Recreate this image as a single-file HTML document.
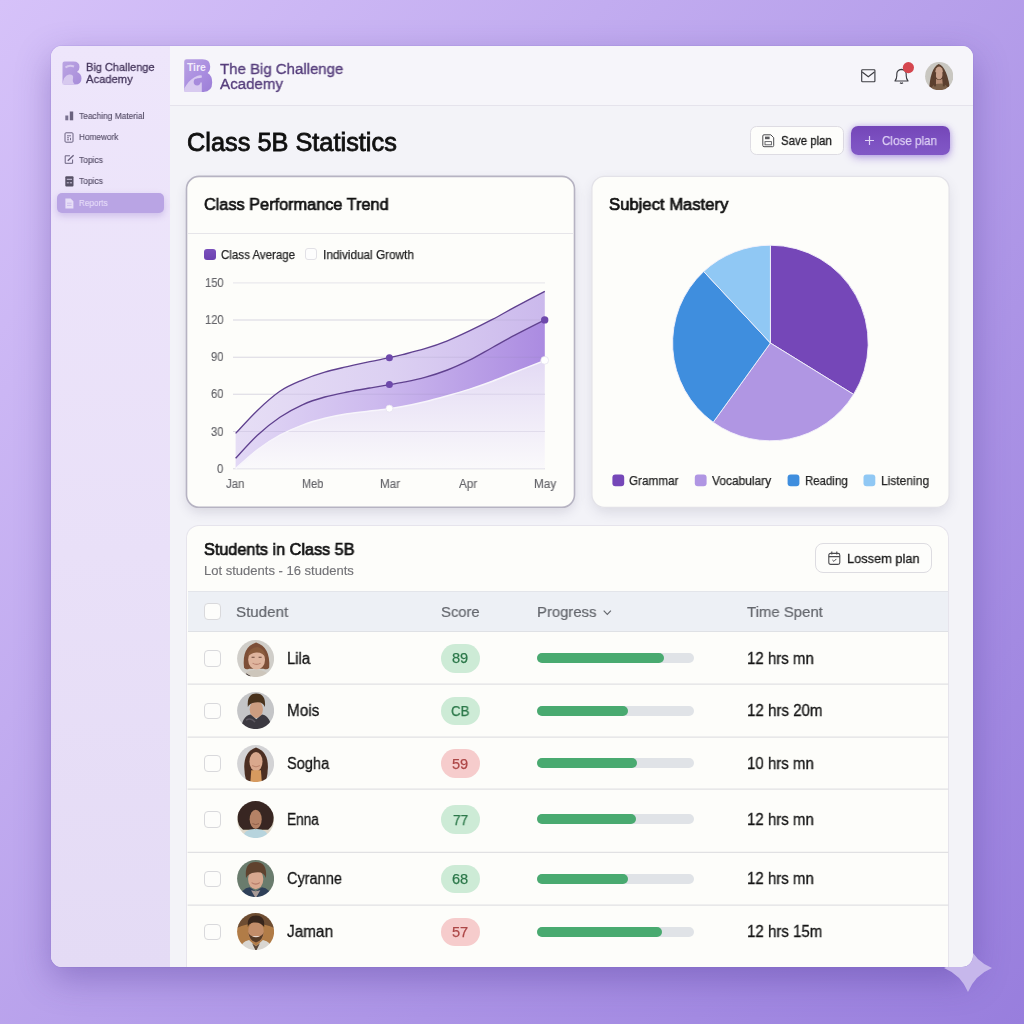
<!DOCTYPE html>
<html>
<head>
<meta charset="utf-8">
<style>
*{box-sizing:border-box;margin:0;padding:0}
html,body{width:1024px;height:1024px;overflow:hidden}
body{font-family:"Liberation Sans",sans-serif;position:relative;background:#b9a2ea}
.abs{position:absolute;display:block}
.t{will-change:transform;position:absolute;display:block;white-space:nowrap;line-height:1;transform-origin:0 0}
.card{position:absolute;background:#fdfdfa}
.chk{position:absolute;width:16.5px;height:16.5px;border:1.5px solid #d9d9dc;border-radius:4px;background:#fdfdfb}
.sep{position:absolute;left:187px;width:762px;height:1.2px;background:#e2e2e4}
.pill{position:absolute;left:440.8px;width:39.2px;height:28.8px;border-radius:14.4px}
.pg{background:#cdebd6}
.pr{background:#f6cccc}
.track{position:absolute;left:536.6px;width:157.2px;height:10px;border-radius:5px;background:#e0e3e7}
.fill{position:absolute;left:536.6px;height:10px;border-radius:5px;background:#49aa70}
</style>
</head>
<body>

<div class="abs" style="left:0;top:0;width:1024px;height:1024px;background:linear-gradient(130deg,#d6c2f9 0%,#987edd 100%)"></div>
<div class="abs" style="left:51px;top:45.5px;width:922px;height:921.5px;border-radius:11px;background:#f3f3f8;box-shadow:0 12px 34px rgba(70,45,140,.36),0 0 0 1px rgba(150,125,215,.15);overflow:hidden">
 <div class="abs" style="left:0;top:0;width:118.5px;height:922px;background:linear-gradient(180deg,#eee6fb 0%,#e9e0f8 55%,#e4dbf5 100%)"></div>
 <div class="abs" style="left:118.5px;top:0;width:804px;height:60px;background:#f6f5fa;border-bottom:1.2px solid #e5e3ec"></div>
</div>
<svg class="abs" style="left:61.5px;top:61px" width="20" height="24" viewBox="0 0 20 24">
<defs><linearGradient id="lg0" x1="0" y1="0" x2="1" y2="1"><stop offset="0" stop-color="#bba5e3"/><stop offset="1" stop-color="#a78cd9"/></linearGradient></defs>
<path d="M0.5 2.5Q0.5 0.5 2.5 0.5H11.5Q17.5 0.5 17.5 6Q17.5 9.5 15 11Q19.5 12.5 19.5 17.5Q19.5 23.5 13 23.5H2.5Q0.5 23.5 0.5 21.5Z" fill="url(#lg0)"/>
<path d="M0.5 23.5Q1.5 14.5 7 13.5Q12 13 11 17.5Q10 21 13 23.5Z" fill="#d7c9ef"/>
<path d="M3.5 6.5Q7 3.5 12 5.5" stroke="#d7c9ef" stroke-width="2" fill="none"/>
</svg>
<div class="t" style="left:86.30px;top:61.57px;font-size:11.5px;color:#45365c;transform:scaleX(0.9566);-webkit-text-stroke:0.30px #45365c;">Big Challenge</div>
<div class="t" style="left:86.30px;top:73.67px;font-size:11.5px;color:#45365c;transform:scaleX(0.9743);-webkit-text-stroke:0.30px #45365c;">Academy</div>
<div class="abs" style="left:57px;top:193.3px;width:107px;height:19.8px;border-radius:5px;background:#b9a4e4;box-shadow:0 3px 7px rgba(125,95,195,.28)"></div>
<div class="t" style="left:79.40px;top:111.04px;font-size:9.4px;color:#564e68;transform:scaleX(0.8891);-webkit-text-stroke:0.15px #564e68;">Teaching Material</div>
<div class="t" style="left:79.40px;top:132.34px;font-size:9.4px;color:#564e68;transform:scaleX(0.8789);-webkit-text-stroke:0.15px #564e68;">Homework</div>
<div class="t" style="left:79.40px;top:154.54px;font-size:9.4px;color:#564e68;transform:scaleX(0.8972);-webkit-text-stroke:0.15px #564e68;">Topics</div>
<div class="t" style="left:79.40px;top:176.34px;font-size:9.4px;color:#564e68;transform:scaleX(0.8972);-webkit-text-stroke:0.15px #564e68;">Topics</div>
<div class="t" style="left:79.40px;top:198.34px;font-size:9.4px;color:#e4daf7;transform:scaleX(0.8691);-webkit-text-stroke:0.15px #e4daf7;">Reports</div>
<svg class="abs" style="left:64.5px;top:110.5px" width="9" height="10" viewBox="0 0 9 10"><rect x="0.3" y="4.5" width="3" height="4.8" fill="#7a7290"/><rect x="4.8" y="0.5" width="3.4" height="8.8" fill="#6a627e"/></svg>
<svg class="abs" style="left:64px;top:131.5px" width="10" height="11" viewBox="0 0 10 11"><rect x="1" y="0.8" width="8" height="9.4" rx="1" fill="none" stroke="#6b6380" stroke-width="1"/><path d="M3 3.8h4M3 5.8h2M6.5 5.8v2.4M3 7.8h2" stroke="#6b6380" stroke-width="0.9"/></svg>
<svg class="abs" style="left:64px;top:153.5px" width="11" height="11" viewBox="0 0 11 11"><path d="M6 1.8H1.2V9.3H8.6V5.5" fill="none" stroke="#6b6380" stroke-width="1"/><path d="M3.8 6.8L9.6 1.2" stroke="#6b6380" stroke-width="1.4"/></svg>
<svg class="abs" style="left:64.5px;top:175.5px" width="9" height="11" viewBox="0 0 9 11"><rect x="0.3" y="0.3" width="8.2" height="10.2" rx="1" fill="#575166"/><path d="M1.8 3.3h5.2M1.8 6.8h2M4.8 6.8h2.2" stroke="#cfc8e0" stroke-width="1"/></svg>
<svg class="abs" style="left:65px;top:197.5px" width="9" height="11" viewBox="0 0 9 11"><path d="M0.4 0.4H5.6L8.4 3.2V10.6H0.4Z" fill="#e7def7"/><path d="M2 5.2h4.6M2 7.4h4.6" stroke="#c5b4ea" stroke-width="0.8"/></svg>
<svg class="abs" style="left:184px;top:58.8px" width="29" height="34" viewBox="0 0 29 34">
<defs><linearGradient id="lg1" x1="0" y1="0" x2="1" y2="1"><stop offset="0" stop-color="#b9a2e3"/><stop offset="0.55" stop-color="#a98de0"/><stop offset="1" stop-color="#9c7ed6"/></linearGradient></defs>
<path d="M0.2 2.6Q0.2 0.3 2.6 0.3H18.5Q26.2 0.3 26.2 7.6Q26.2 12.2 23.6 13.9Q28.2 16.3 28.2 23.6Q28.2 32.9 19.5 32.9H2.6Q0.2 32.9 0.2 30.6Z" fill="url(#lg1)"/>
<path d="M0.3 32.9V29.5Q4.5 21.5 10.5 18.2Q15 15.6 17.8 16.6V32.9Z" fill="#d8caf0"/>
<circle cx="13.1" cy="23" r="3.4" fill="#a78bdc"/>
<path d="M13.1 19.6L18.5 18.4V23.4L13.1 23.4Z" fill="#a78bdc"/>
<text x="2.9" y="12.3" font-family="Liberation Sans" font-weight="bold" font-size="11.2" fill="#f1ebfb" textLength="19" lengthAdjust="spacingAndGlyphs">Tire</text>
</svg>
<div class="t" style="left:220.00px;top:60.93px;font-size:15.2px;color:#563e7c;transform:scaleX(0.9867);-webkit-text-stroke:0.35px #563e7c;">The Big Challenge</div>
<div class="t" style="left:220.00px;top:76.23px;font-size:15.2px;color:#563e7c;transform:scaleX(0.9944);-webkit-text-stroke:0.35px #563e7c;">Academy</div>
<svg class="abs" style="left:860.5px;top:69px" width="16" height="14" viewBox="0 0 16 14"><rect x="0.7" y="0.7" width="13.2" height="12" rx="0.8" fill="none" stroke="#3c3c42" stroke-width="1.15"/><path d="M1.2 3L7.3 7.8L13.4 3" fill="none" stroke="#3c3c42" stroke-width="1.15"/></svg>
<svg class="abs" style="left:892px;top:61px" width="24" height="24" viewBox="0 0 24 24"><path d="M3 20H16Q14.2 18 14.2 14.5V13Q14.2 9 9.5 8.4Q4.8 9 4.8 13V14.5Q4.8 18 3 20Z" fill="none" stroke="#3c3c42" stroke-width="1.15" stroke-linejoin="round"/><path d="M8 21.8Q9.5 23 11 21.8" fill="none" stroke="#3c3c42" stroke-width="1.1"/><circle cx="16.4" cy="6.6" r="5.6" fill="#d5464f"/></svg>
<svg class="abs" style="left:925px;top:61.8px" width="28.4" height="28.4" viewBox="0 0 28 28"><defs><clipPath id="ca"><circle cx="14" cy="14" r="13.9"/></clipPath><filter id="ba" x="-10%" y="-10%" width="120%" height="120%"><feGaussianBlur stdDeviation="0.5"/></filter></defs><g clip-path="url(#ca)"><g filter="url(#ba)"><rect width="28" height="28" fill="#c9c7c1"/><path d="M4 29Q5 6 13.5 2Q22 5 25 29Z" fill="#5b3f2f"/><ellipse cx="13.9" cy="10.8" rx="3.9" ry="6.4" fill="#c9a18b"/><path d="M11 16.5Q14 19 17 16.5L17.5 22H10.5Z" fill="#b68c74"/><path d="M5 29Q7 20.5 14 21.5Q21 20 24.5 29Z" fill="#7b614a"/><path d="M10 10Q9 18 10 24M18 10Q19.5 18 18.5 24" stroke="#5b3f2f" stroke-width="2" fill="none"/></g></g></svg>
<div class="t" style="left:187.00px;top:129.94px;font-size:25px;color:#101010;transform:scaleX(1.0135);-webkit-text-stroke:0.80px #101010;">Class 5B Statistics</div>
<div class="abs" style="left:749.5px;top:126.4px;width:94.2px;height:28.6px;border:1.2px solid #dedce3;border-radius:6.5px;background:#fdfdfb"></div>
<svg class="abs" style="left:762px;top:134.3px" width="12.5" height="13.5" viewBox="0 0 12.5 13.5"><path d="M0.8 2Q0.8 0.8 2 0.8H8.8L11.7 3.7V11.5Q11.7 12.7 10.5 12.7H2Q0.8 12.7 0.8 11.5Z" fill="none" stroke="#4a4a4e" stroke-width="1"/><rect x="3" y="2.6" width="4.6" height="2.6" fill="#5a5a5e"/><rect x="3" y="7.6" width="6.4" height="3.2" fill="none" stroke="#5a5a5e" stroke-width="0.9"/></svg>
<div class="t" style="left:780.60px;top:134.53px;font-size:12.6px;color:#1a1a1a;transform:scaleX(0.9064);-webkit-text-stroke:0.30px #1a1a1a;">Save plan</div>
<div class="abs" style="left:851.3px;top:126.2px;width:98.5px;height:29px;border-radius:7px;background:linear-gradient(180deg,#7446b8 0%,#7d52c2 60%,#8158c6 100%);box-shadow:0 3px 9px rgba(125,85,205,.45),0 0 5px rgba(150,115,225,.35)"></div>
<svg class="abs" style="left:865.2px;top:136.2px" width="9" height="9" viewBox="0 0 9 9"><path d="M4.5 0V9M0 4.5H9" stroke="#e0d4f6" stroke-width="1.2"/></svg>
<div class="t" style="left:882.30px;top:134.53px;font-size:12.6px;color:#dccff4;transform:scaleX(0.9238);-webkit-text-stroke:0.25px #dccff4;">Close plan</div>
<div class="abs" style="left:187px;top:177px;width:387px;height:330px;border-radius:13px;box-shadow:0 5px 12px rgba(70,65,100,.16)"></div>
<svg class="abs" style="left:180px;top:170px" width="400" height="345" viewBox="180 170 400 345"><rect x="186.5" y="176.4" width="388" height="330.9" rx="12.5" fill="#fdfdfa" stroke="#b6b3c2" stroke-width="1.6"/></svg>
<div class="abs" style="left:188px;top:232.6px;width:385px;height:1.2px;background:#e6e5e9"></div>
<div class="t" style="left:204.30px;top:196.58px;font-size:16.8px;color:#111111;transform:scaleX(0.9702);-webkit-text-stroke:0.70px #111111;">Class Performance Trend</div>
<div class="abs" style="left:204.3px;top:248.5px;width:11.6px;height:11.6px;border-radius:3px;background:linear-gradient(180deg,#7a50bc,#6c42b0)"></div>
<div class="t" style="left:221.00px;top:248.67px;font-size:12.2px;color:#262626;transform:scaleX(0.9459);-webkit-text-stroke:0.25px #262626;">Class Average</div>
<div class="abs" style="left:305.4px;top:248.4px;width:12px;height:12px;border-radius:3px;background:#fdfdfd;border:1.1px solid #e2e1e6"></div>
<div class="t" style="left:322.60px;top:248.67px;font-size:12.2px;color:#262626;transform:scaleX(0.9644);-webkit-text-stroke:0.25px #262626;">Individual Growth</div>
<svg class="abs" style="left:186px;top:176px" width="389" height="332" viewBox="186 176 389 332">
<defs>
<linearGradient id="gU" x1="0" y1="0" x2="1" y2="0"><stop offset="0" stop-color="#e6def5"/><stop offset="0.5" stop-color="#dcd0f2"/><stop offset="1" stop-color="#cbb9ec"/></linearGradient>
<linearGradient id="gM" x1="0" y1="0" x2="1" y2="0"><stop offset="0" stop-color="#e2d8f5"/><stop offset="0.45" stop-color="#cdbaee"/><stop offset="1" stop-color="#ab8be1"/></linearGradient>
<linearGradient id="gL" x1="0" y1="0" x2="0" y2="1"><stop offset="0" stop-color="#e3daf4"/><stop offset="1" stop-color="#faf9fb"/></linearGradient>
</defs>
<path d="M233 282.9H545M233 320H545M233 357.2H545M233 394.3H545M233 431.5H545M233 468.7H545" stroke="#eae9ed" stroke-width="1.1"/>
<path d="M235.6 468.6 C239.2 465.5,250.0 455.4,257.4 449.8 C264.8 444.2,272.4 439.3,279.9 435.2 C287.4 431.1,294.9 427.9,302.4 425.1 C309.9 422.3,317.3 420.2,324.8 418.3 C332.3 416.4,339.8 415.0,347.3 413.8 C354.8 412.6,362.8 411.9,369.8 411.0 C376.8 410.1,383.9 409.4,389.4 408.7 C394.8 408.0,396.6 407.8,402.5 406.6 C408.4 405.5,417.4 403.6,424.9 401.8 C432.4 400.0,439.9 397.9,447.4 395.8 C454.9 393.7,462.4 391.5,469.9 389.1 C477.4 386.7,484.9 384.0,492.4 381.2 C499.9 378.4,506.1 375.6,514.8 372.2 C523.5 368.8,539.8 362.4,544.8 360.5 L544.8 468.7 L235.6 468.7 Z" fill="url(#gL)"/>
<path d="M235.6 458.3 C239.2 454.4,250.0 442.1,257.4 435.2 C264.8 428.3,272.4 422.3,279.9 417.2 C287.4 412.1,294.9 408.2,302.4 404.8 C309.9 401.4,317.3 399.1,324.8 397.0 C332.3 394.9,339.8 393.5,347.3 392.0 C354.8 390.5,362.8 389.2,369.8 388.0 C376.8 386.8,383.9 385.6,389.4 384.7 C394.8 383.8,396.6 383.6,402.5 382.4 C408.4 381.2,417.4 379.5,424.9 377.4 C432.4 375.3,439.9 372.9,447.4 370.0 C454.9 367.1,462.4 363.6,469.9 359.9 C477.4 356.1,484.9 351.6,492.4 347.5 C499.9 343.4,506.1 339.8,514.8 335.2 C523.5 330.6,539.8 322.4,544.8 319.9 L544.8 360.5 C539.8 362.4,523.5 368.8,514.8 372.2 C506.1 375.6,499.9 378.4,492.4 381.2 C484.9 384.0,477.4 386.7,469.9 389.1 C462.4 391.5,454.9 393.7,447.4 395.8 C439.9 397.9,432.4 400.0,424.9 401.8 C417.4 403.6,408.4 405.5,402.5 406.6 C396.6 407.8,394.8 408.0,389.4 408.7 C383.9 409.4,376.8 410.1,369.8 411.0 C362.8 411.9,354.8 412.6,347.3 413.8 C339.8 415.0,332.3 416.4,324.8 418.3 C317.3 420.2,309.9 422.3,302.4 425.1 C294.9 427.9,287.4 431.1,279.9 435.2 C272.4 439.3,264.8 444.2,257.4 449.8 C250.0 455.4,239.2 465.5,235.6 468.6 Z" fill="url(#gM)"/>
<path d="M235.6 433.4 C239.2 429.6,250.0 417.4,257.4 410.4 C264.8 403.4,272.4 396.4,279.9 391.3 C287.4 386.2,294.9 383.3,302.4 380.1 C309.9 376.9,317.3 374.4,324.8 372.2 C332.3 369.9,339.8 368.4,347.3 366.6 C354.8 364.9,362.8 363.2,369.8 361.7 C376.8 360.2,383.9 358.9,389.4 357.7 C394.8 356.5,396.6 356.1,402.5 354.6 C408.4 353.1,417.4 351.0,424.9 348.7 C432.4 346.4,439.9 343.8,447.4 340.8 C454.9 337.8,462.4 334.3,469.9 330.7 C477.4 327.1,484.9 323.3,492.4 319.4 C499.9 315.5,506.1 311.8,514.8 307.1 C523.5 302.4,539.8 293.9,544.8 291.3 L544.8 319.9 C539.8 322.4,523.5 330.6,514.8 335.2 C506.1 339.8,499.9 343.4,492.4 347.5 C484.9 351.6,477.4 356.1,469.9 359.9 C462.4 363.6,454.9 367.1,447.4 370.0 C439.9 372.9,432.4 375.3,424.9 377.4 C417.4 379.5,408.4 381.2,402.5 382.4 C396.6 383.6,394.8 383.8,389.4 384.7 C383.9 385.6,376.8 386.8,369.8 388.0 C362.8 389.2,354.8 390.5,347.3 392.0 C339.8 393.5,332.3 394.9,324.8 397.0 C317.3 399.1,309.9 401.4,302.4 404.8 C294.9 408.2,287.4 412.1,279.9 417.2 C272.4 422.3,264.8 428.3,257.4 435.2 C250.0 442.1,239.2 454.4,235.6 458.3 Z" fill="url(#gU)"/>
<path d="M233 320H545M233 357.2H545M233 394.3H545M233 431.5H545M233 468.7H545" stroke="#8a80a8" stroke-opacity="0.16" stroke-width="1.1"/>
<path d="M235.6 433.4 C239.2 429.6,250.0 417.4,257.4 410.4 C264.8 403.4,272.4 396.4,279.9 391.3 C287.4 386.2,294.9 383.3,302.4 380.1 C309.9 376.9,317.3 374.4,324.8 372.2 C332.3 369.9,339.8 368.4,347.3 366.6 C354.8 364.9,362.8 363.2,369.8 361.7 C376.8 360.2,383.9 358.9,389.4 357.7 C394.8 356.5,396.6 356.1,402.5 354.6 C408.4 353.1,417.4 351.0,424.9 348.7 C432.4 346.4,439.9 343.8,447.4 340.8 C454.9 337.8,462.4 334.3,469.9 330.7 C477.4 327.1,484.9 323.3,492.4 319.4 C499.9 315.5,506.1 311.8,514.8 307.1 C523.5 302.4,539.8 293.9,544.8 291.3" fill="none" stroke="#60418f" stroke-width="1.35"/>
<path d="M235.6 458.3 C239.2 454.4,250.0 442.1,257.4 435.2 C264.8 428.3,272.4 422.3,279.9 417.2 C287.4 412.1,294.9 408.2,302.4 404.8 C309.9 401.4,317.3 399.1,324.8 397.0 C332.3 394.9,339.8 393.5,347.3 392.0 C354.8 390.5,362.8 389.2,369.8 388.0 C376.8 386.8,383.9 385.6,389.4 384.7 C394.8 383.8,396.6 383.6,402.5 382.4 C408.4 381.2,417.4 379.5,424.9 377.4 C432.4 375.3,439.9 372.9,447.4 370.0 C454.9 367.1,462.4 363.6,469.9 359.9 C477.4 356.1,484.9 351.6,492.4 347.5 C499.9 343.4,506.1 339.8,514.8 335.2 C523.5 330.6,539.8 322.4,544.8 319.9" fill="none" stroke="#60418f" stroke-width="1.35"/>
<path d="M235.6 468.6 C239.2 465.5,250.0 455.4,257.4 449.8 C264.8 444.2,272.4 439.3,279.9 435.2 C287.4 431.1,294.9 427.9,302.4 425.1 C309.9 422.3,317.3 420.2,324.8 418.3 C332.3 416.4,339.8 415.0,347.3 413.8 C354.8 412.6,362.8 411.9,369.8 411.0 C376.8 410.1,383.9 409.4,389.4 408.7 C394.8 408.0,396.6 407.8,402.5 406.6 C408.4 405.5,417.4 403.6,424.9 401.8 C432.4 400.0,439.9 397.9,447.4 395.8 C454.9 393.7,462.4 391.5,469.9 389.1 C477.4 386.7,484.9 384.0,492.4 381.2 C499.9 378.4,506.1 375.6,514.8 372.2 C523.5 368.8,539.8 362.4,544.8 360.5" fill="none" stroke="#f7f5fb" stroke-width="1.5"/>
<circle cx="389.4" cy="357.8" r="3.5" fill="#6e49ab"/><circle cx="389.4" cy="384.6" r="3.5" fill="#6e49ab"/><circle cx="544.7" cy="319.9" r="3.7" fill="#6e49ab"/>
<circle cx="389.4" cy="408.6" r="3.5" fill="#fff" stroke="#e4e0ee" stroke-width="0.7"/><circle cx="544.7" cy="360.3" r="3.9" fill="#fff" stroke="#e4e0ee" stroke-width="0.7"/>
</svg>
<div class="t" style="left:204.79px;top:277.04px;font-size:12px;color:#646469;transform:scaleX(0.9300);-webkit-text-stroke:0.15px #646469;">150</div>
<div class="t" style="left:204.79px;top:314.14px;font-size:12px;color:#646469;transform:scaleX(0.9300);-webkit-text-stroke:0.15px #646469;">120</div>
<div class="t" style="left:210.99px;top:351.34px;font-size:12px;color:#646469;transform:scaleX(0.9300);-webkit-text-stroke:0.15px #646469;">90</div>
<div class="t" style="left:210.99px;top:388.44px;font-size:12px;color:#646469;transform:scaleX(0.9300);-webkit-text-stroke:0.15px #646469;">60</div>
<div class="t" style="left:210.99px;top:425.64px;font-size:12px;color:#646469;transform:scaleX(0.9300);-webkit-text-stroke:0.15px #646469;">30</div>
<div class="t" style="left:217.20px;top:462.84px;font-size:12px;color:#646469;transform:scaleX(0.9300);-webkit-text-stroke:0.15px #646469;">0</div>
<div class="t" style="left:225.60px;top:477.84px;font-size:12px;color:#646469;transform:scaleX(0.9512);-webkit-text-stroke:0.15px #646469;">Jan</div>
<div class="t" style="left:302.00px;top:477.84px;font-size:12px;color:#646469;transform:scaleX(0.9126);-webkit-text-stroke:0.15px #646469;">Meb</div>
<div class="t" style="left:379.80px;top:477.84px;font-size:12px;color:#646469;transform:scaleX(0.9679);-webkit-text-stroke:0.15px #646469;">Mar</div>
<div class="t" style="left:458.60px;top:477.84px;font-size:12px;color:#646469;transform:scaleX(0.9694);-webkit-text-stroke:0.15px #646469;">Apr</div>
<div class="t" style="left:534.30px;top:477.84px;font-size:12px;color:#646469;transform:scaleX(0.9749);-webkit-text-stroke:0.15px #646469;">May</div>
<div class="abs" style="left:593px;top:177px;width:355px;height:330px;border-radius:13px;box-shadow:0 5px 13px rgba(70,65,100,.15)"></div>
<svg class="abs" style="left:585px;top:170px" width="370" height="345" viewBox="585 170 370 345"><rect x="591.9" y="176.3" width="357.2" height="331" rx="12.5" fill="#fdfdfa" stroke="#e3e2e8" stroke-width="1.3"/></svg>
<div class="t" style="left:609.00px;top:196.58px;font-size:16.8px;color:#111111;transform:scaleX(0.9922);-webkit-text-stroke:0.70px #111111;">Subject Mastery</div>
<svg class="abs" style="left:592px;top:176px" width="358" height="332" viewBox="592 176 358 332">
<g stroke="#f3f1fb" stroke-width="0.9" stroke-linejoin="round">
<path d="M770.40 343.00 L770.40 245.20 A97.8 97.8 0 0 1 853.61 394.39 Z" fill="#7547b8"/>
<path d="M770.40 343.00 L853.61 394.39 A97.8 97.8 0 0 1 713.19 422.32 Z" fill="#b096e3"/>
<path d="M770.40 343.00 L713.19 422.32 A97.8 97.8 0 0 1 703.70 271.47 Z" fill="#3f8ede"/>
<path d="M770.40 343.00 L703.70 271.47 A97.8 97.8 0 0 1 770.40 245.20 Z" fill="#90c8f4"/>
</g>
<rect x="612.4" y="474.5" width="11.8" height="11.8" rx="3" fill="#7547b8"/>
<rect x="694.8" y="474.5" width="11.8" height="11.8" rx="3" fill="#b096e3"/>
<rect x="787.6" y="474.5" width="11.8" height="11.8" rx="3" fill="#3f8ede"/>
<rect x="863.5" y="474.5" width="11.8" height="11.8" rx="3" fill="#90c8f4"/>
</svg>
<div class="t" style="left:629.00px;top:474.63px;font-size:12.6px;color:#262626;transform:scaleX(0.9305);-webkit-text-stroke:0.25px #262626;">Grammar</div>
<div class="t" style="left:711.80px;top:474.63px;font-size:12.6px;color:#262626;transform:scaleX(0.9496);-webkit-text-stroke:0.25px #262626;">Vocabulary</div>
<div class="t" style="left:804.60px;top:474.63px;font-size:12.6px;color:#262626;transform:scaleX(0.9098);-webkit-text-stroke:0.25px #262626;">Reading</div>
<div class="t" style="left:880.50px;top:474.63px;font-size:12.6px;color:#262626;transform:scaleX(0.9536);-webkit-text-stroke:0.25px #262626;">Listening</div>
<div class="card" style="left:186.4px;top:525px;width:763px;height:442px;border:1.2px solid #e6e4ec;border-bottom:none;border-radius:13px 13px 0 0"></div>
<div class="t" style="left:204.30px;top:541.12px;font-size:16.4px;color:#111111;transform:scaleX(0.9892);-webkit-text-stroke:0.70px #111111;">Students in Class 5B</div>
<div class="t" style="left:204.30px;top:563.90px;font-size:13px;color:#737377;transform:scaleX(1.0014);-webkit-text-stroke:0.15px #737377;">Lot students - 16 students</div>
<div class="abs" style="left:814.8px;top:542.6px;width:116.9px;height:30.8px;border:1.2px solid #dddce1;border-radius:8px;background:#fdfdfb"></div>
<svg class="abs" style="left:827.5px;top:551px" width="13" height="14.5" viewBox="0 0 13 14.5"><rect x="0.8" y="2.4" width="11" height="11" rx="1.8" fill="none" stroke="#4a4a4e" stroke-width="1.1"/><path d="M0.8 5.6H11.8M3.8 0.6V3.6M8.8 0.6V3.6" stroke="#4a4a4e" stroke-width="1.1"/><path d="M4.4 9L5.9 10.4L8.4 7.9" fill="none" stroke="#4a4a4e" stroke-width="1"/></svg>
<div class="t" style="left:847.30px;top:551.87px;font-size:13.5px;color:#1a1a1a;transform:scaleX(0.9485);-webkit-text-stroke:0.30px #1a1a1a;">Lossem plan</div>
<div class="abs" style="left:187.6px;top:590.8px;width:760.8px;height:41px;background:#edf0f5;border-top:1.2px solid #e3e5ea;border-bottom:1.2px solid #dfe1e5"></div>
<div class="chk" style="left:204.4px;top:603.2px"></div>
<div class="t" style="left:236.00px;top:604.33px;font-size:15.2px;color:#63666c;transform:scaleX(0.9944);-webkit-text-stroke:0.20px #63666c;">Student</div>
<div class="t" style="left:440.80px;top:604.33px;font-size:15.2px;color:#63666c;transform:scaleX(0.9722);-webkit-text-stroke:0.20px #63666c;">Score</div>
<div class="t" style="left:537.10px;top:604.33px;font-size:15.2px;color:#63666c;transform:scaleX(0.9765);-webkit-text-stroke:0.20px #63666c;">Progress</div>
<svg class="abs" style="left:603px;top:610px" width="9" height="6" viewBox="0 0 9 6"><path d="M0.7 0.7L4.3 4.3L7.9 0.7" fill="none" stroke="#66696f" stroke-width="1.2"/></svg>
<div class="t" style="left:746.50px;top:604.33px;font-size:15.2px;color:#63666c;transform:scaleX(0.9837);-webkit-text-stroke:0.20px #63666c;">Time Spent</div>
<svg class="abs" style="left:187px;top:640px" width="762" height="300" viewBox="187 640 762 300"><path d="M187.6 684.1H948.4 M187.6 737.0H948.4 M187.6 789.1H948.4 M187.6 852.4H948.4 M187.6 905.1H948.4" stroke="#e1e1e3" stroke-width="1.25"/></svg>
<div class="chk" style="left:204.4px;top:650.0px"></div>
<svg class="abs" style="left:236.8px;top:639.6px" width="37.2" height="37.2" viewBox="0 0 37 37"><defs><clipPath id="c0"><circle cx="18.5" cy="18.5" r="18.4"/></clipPath><filter id="b0" x="-10%" y="-10%" width="120%" height="120%"><feGaussianBlur stdDeviation="0.55"/></filter></defs><g clip-path="url(#c0)"><g filter="url(#b0)"><rect width="37" height="37" fill="#d0cec9"/><path d="M7 27.5Q4.5 7 19 2.5Q33.5 7 32 27.5Q30 30 26.5 28.5L12 28.5Q9 30 7 27.5Z" fill="#7d5037"/><ellipse cx="19.5" cy="19.6" rx="8.4" ry="9.8" fill="#dfb59e"/><path d="M10.5 17Q12 7 20.5 7Q27.5 8.5 29 18Q25.5 12 19 12.5Q13.5 13 10.5 17Z" fill="#8a5b3e"/><path d="M14.5 17.2h3M21.5 17.2h3" stroke="#6b4a3a" stroke-width="1"/><path d="M15.5 23Q19.5 25.5 23.5 23" stroke="#b98270" stroke-width="1" fill="none"/><path d="M6 38Q8 29.5 19 30Q30 29.5 32 38Z" fill="#cdc6bb"/><path d="M9 33L14 36L10 38Z" fill="#3d3432"/></g></g></svg>
<div class="t" style="left:287.00px;top:650.63px;font-size:15.8px;color:#141414;transform:scaleX(0.9425);-webkit-text-stroke:0.30px #141414;">Lila</div>
<div class="pill pg" style="top:643.9px"></div>
<div class="t" style="left:452.00px;top:651.44px;font-size:14.6px;color:#2c784a;transform:scaleX(0.9978);-webkit-text-stroke:0.25px #2c784a;">89</div>
<div class="track" style="top:653px"></div>
<div class="fill" style="top:653px;width:127.4px"></div>
<div class="t" style="left:746.50px;top:650.63px;font-size:15.8px;color:#141414;transform:scaleX(0.9509);-webkit-text-stroke:0.30px #141414;">12 hrs mn</div>
<div class="chk" style="left:204.4px;top:702.7px"></div>
<svg class="abs" style="left:236.8px;top:692.3px" width="37.2" height="37.2" viewBox="0 0 37 37"><defs><clipPath id="c1"><circle cx="18.5" cy="18.5" r="18.4"/></clipPath><filter id="b1" x="-10%" y="-10%" width="120%" height="120%"><feGaussianBlur stdDeviation="0.55"/></filter></defs><g clip-path="url(#c1)"><g filter="url(#b1)"><rect width="37" height="37" fill="#c4c5c7"/><ellipse cx="19.2" cy="17.2" rx="6.6" ry="8.6" fill="#cd9d80"/><path d="M10.8 15Q9.5 1.5 19.2 1.5Q29 1.5 27.8 15Q25.5 9 18 10.5Q12.5 11 10.8 15Z" fill="#49331f"/><path d="M4 38Q5 24 13.5 22.5L19.2 27L25 22.5Q33.5 24 34.5 38Z" fill="#3b393f"/><path d="M9 28Q14 25 18 30" stroke="#5d5862" stroke-width="1.5" fill="none"/></g></g></svg>
<div class="t" style="left:287.00px;top:703.33px;font-size:15.8px;color:#141414;transform:scaleX(0.9684);-webkit-text-stroke:0.30px #141414;">Mois</div>
<div class="pill pg" style="top:696.6px"></div>
<div class="t" style="left:451.00px;top:704.14px;font-size:14.6px;color:#2c784a;transform:scaleX(0.9123);-webkit-text-stroke:0.25px #2c784a;">CB</div>
<div class="track" style="top:706px"></div>
<div class="fill" style="top:706px;width:91.1px"></div>
<div class="t" style="left:746.50px;top:703.33px;font-size:15.8px;color:#141414;transform:scaleX(0.9566);-webkit-text-stroke:0.30px #141414;">12 hrs 20m</div>
<div class="chk" style="left:204.4px;top:755.2px"></div>
<svg class="abs" style="left:236.8px;top:744.8px" width="37.2" height="37.2" viewBox="0 0 37 37"><defs><clipPath id="c2"><circle cx="18.5" cy="18.5" r="18.4"/></clipPath><filter id="b2" x="-10%" y="-10%" width="120%" height="120%"><feGaussianBlur stdDeviation="0.55"/></filter></defs><g clip-path="url(#c2)"><g filter="url(#b2)"><rect width="37" height="37" fill="#d3d3d5"/><path d="M9.5 38Q2 8 18.9 2.5Q36 8 28.5 38Z" fill="#4c2f22"/><ellipse cx="18.9" cy="16.5" rx="6.5" ry="9.6" fill="#d9a88d"/><path d="M14.2 25H23.8L24.8 38H13.2Z" fill="#d69a5e"/><path d="M15 20.5Q18.9 23 22.8 20.5" stroke="#b67d66" stroke-width="0.9" fill="none"/></g></g></svg>
<div class="t" style="left:286.80px;top:755.83px;font-size:15.8px;color:#141414;transform:scaleX(0.9235);-webkit-text-stroke:0.30px #141414;">Sogha</div>
<div class="pill pr" style="top:749.1px"></div>
<div class="t" style="left:452.00px;top:756.64px;font-size:14.6px;color:#ad4747;transform:scaleX(0.9978);-webkit-text-stroke:0.25px #ad4747;">59</div>
<div class="track" style="top:758px"></div>
<div class="fill" style="top:758px;width:100.1px"></div>
<div class="t" style="left:746.50px;top:755.83px;font-size:15.8px;color:#141414;transform:scaleX(0.9509);-webkit-text-stroke:0.30px #141414;">10 hrs mn</div>
<div class="chk" style="left:204.4px;top:811.1px"></div>
<svg class="abs" style="left:236.8px;top:800.7px" width="37.2" height="37.2" viewBox="0 0 37 37"><defs><clipPath id="c3"><circle cx="18.5" cy="18.5" r="18.4"/></clipPath><filter id="b3" x="-10%" y="-10%" width="120%" height="120%"><feGaussianBlur stdDeviation="0.55"/></filter></defs><g clip-path="url(#c3)"><g filter="url(#b3)"><rect width="37" height="37" fill="#ded8cb"/><path d="M0.5 16Q0 -0.5 18.6 -0.5Q37 -0.5 36.5 16Q36.5 25 31 28.5L6 28.5Q0.5 25 0.5 16Z" fill="#382820"/><ellipse cx="18.6" cy="18.2" rx="6" ry="9.6" fill="#b58266"/><path d="M5 38Q6.5 27.5 18.6 28Q30.5 27.5 32 38Z" fill="#b7d4dd"/><path d="M15.3 22.5Q18.6 24.5 21.9 22.5" stroke="#8c5c48" stroke-width="0.9" fill="none"/></g></g></svg>
<div class="t" style="left:287.00px;top:811.73px;font-size:15.8px;color:#141414;transform:scaleX(0.8670);-webkit-text-stroke:0.30px #141414;">Enna</div>
<div class="pill pg" style="top:805.0px"></div>
<div class="t" style="left:452.50px;top:812.54px;font-size:14.6px;color:#2c784a;transform:scaleX(0.9424);-webkit-text-stroke:0.25px #2c784a;">77</div>
<div class="track" style="top:814px"></div>
<div class="fill" style="top:814px;width:99.6px"></div>
<div class="t" style="left:746.50px;top:811.73px;font-size:15.8px;color:#141414;transform:scaleX(0.9509);-webkit-text-stroke:0.30px #141414;">12 hrs mn</div>
<div class="chk" style="left:204.4px;top:870.7px"></div>
<svg class="abs" style="left:236.8px;top:860.3px" width="37.2" height="37.2" viewBox="0 0 37 37"><defs><clipPath id="c4"><circle cx="18.5" cy="18.5" r="18.4"/></clipPath><filter id="b4" x="-10%" y="-10%" width="120%" height="120%"><feGaussianBlur stdDeviation="0.55"/></filter></defs><g clip-path="url(#c4)"><g filter="url(#b4)"><rect width="37" height="37" fill="#6b7b6d"/><ellipse cx="18.6" cy="19" rx="7.6" ry="10" fill="#d8a88f"/><path d="M9 18Q7 2 18.6 2Q30.5 2 28.8 18Q26.5 11 18 12.5Q11.5 13 9 18Z" fill="#5e422f"/><path d="M3 38Q4.5 28 12.5 27L18.6 31L24.8 27Q33 28 34.5 38Z" fill="#2f3f59"/><path d="M14 30L18.6 38L23.2 30L18.6 31Z" fill="#a89a96"/><path d="M14.5 22.5Q18.6 25.5 22.7 22.5" stroke="#b37a68" stroke-width="1" fill="none"/></g></g></svg>
<div class="t" style="left:286.80px;top:871.33px;font-size:15.8px;color:#141414;transform:scaleX(0.9192);-webkit-text-stroke:0.30px #141414;">Cyranne</div>
<div class="pill pg" style="top:864.6px"></div>
<div class="t" style="left:452.00px;top:872.14px;font-size:14.6px;color:#2c784a;transform:scaleX(0.9978);-webkit-text-stroke:0.25px #2c784a;">68</div>
<div class="track" style="top:874px"></div>
<div class="fill" style="top:874px;width:91.0px"></div>
<div class="t" style="left:746.50px;top:871.33px;font-size:15.8px;color:#141414;transform:scaleX(0.9509);-webkit-text-stroke:0.30px #141414;">12 hrs mn</div>
<div class="chk" style="left:204.4px;top:923.6px"></div>
<svg class="abs" style="left:236.8px;top:913.2px" width="37.2" height="37.2" viewBox="0 0 37 37"><defs><clipPath id="c5"><circle cx="18.5" cy="18.5" r="18.4"/></clipPath><filter id="b5" x="-10%" y="-10%" width="120%" height="120%"><feGaussianBlur stdDeviation="0.55"/></filter></defs><g clip-path="url(#c5)"><g filter="url(#b5)"><rect width="37" height="37" fill="#b17c47"/><path d="M0 0H37V15Q18 6 0 15Z" fill="#6e4d32"/><ellipse cx="18.9" cy="18.6" rx="7.7" ry="10.8" fill="#c28d6a"/><path d="M10.8 14Q9.5 2.5 18.9 2.5Q28.3 2.5 27 14Q23.5 8.5 16.5 9.5Q12 10.3 10.8 14Z" fill="#38261b"/><path d="M11.2 19Q12.5 28.5 18.9 29.4Q25.3 28.5 26.6 19Q25.5 24 18.9 23.4Q12.3 24 11.2 19Z" fill="#553a28"/><path d="M14.8 22.8Q18.9 25.5 23 22.8Z" fill="#ead9cf"/><path d="M2 38Q4 28 12 26.8L18.9 33L25.8 26.8Q34 28 36 38Z" fill="#d9d6d1"/><path d="M15 30L18.9 38L22.8 30L18.9 33Z" fill="#5a4638"/></g></g></svg>
<div class="t" style="left:286.80px;top:924.23px;font-size:15.8px;color:#141414;transform:scaleX(0.9701);-webkit-text-stroke:0.30px #141414;">Jaman</div>
<div class="pill pr" style="top:917.5px"></div>
<div class="t" style="left:452.00px;top:925.04px;font-size:14.6px;color:#ad4747;transform:scaleX(0.9978);-webkit-text-stroke:0.25px #ad4747;">57</div>
<div class="track" style="top:927px"></div>
<div class="fill" style="top:927px;width:125.0px"></div>
<div class="t" style="left:746.50px;top:924.23px;font-size:15.8px;color:#141414;transform:scaleX(0.9540);-webkit-text-stroke:0.30px #141414;">12 hrs 15m</div>
<svg class="abs" style="left:940px;top:940px" width="56" height="56" viewBox="940 940 56 56"><defs><clipPath id="sc"><path clip-rule="evenodd" d="M940 940H996V996H940Z M940 940H973V956A11 11 0 0 1 962 967H940Z"/></clipPath></defs><path clip-path="url(#sc)" d="M968 944 Q975 961 992 968 Q975 975 968 992 Q961 975 944 968 Q961 961 968 944Z" fill="#c6b7eb"/></svg>
</body>
</html>
